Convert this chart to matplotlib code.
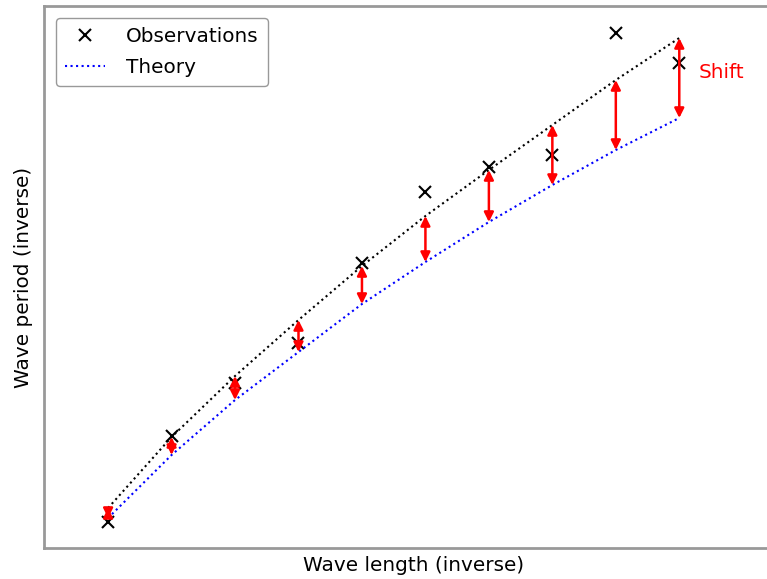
import matplotlib
matplotlib.use('Agg')
import matplotlib.pyplot as plt
import numpy as np

# wave number index and values (arbitrary units)
k = np.arange(1, 11)
theory = [30, 93, 148, 196, 244, 286, 326, 363, 398, 430]
shifted = [40, 111, 172, 228, 282, 332, 378, 423, 468, 510]
observations = [26, 112, 165, 205, 285, 356, 381, 393, 515, 485]

fig = plt.figure(figsize=(7.67, 5.79), dpi=100)
ax = fig.add_axes([44/767, 31/579, 740/767, 542/579])

ax.plot(k, observations, 'x', color='black', markersize=8, mew=1.5, label='Observations')
ax.plot(k, theory, ':', color='blue', lw=1.5, label='Theory')
ax.plot(k, shifted, ':', color='black', lw=1.5)

for xi, lo, hi in zip(k, theory, shifted):
    ax.annotate('', xy=(xi, hi), xytext=(xi, lo),
                arrowprops=dict(arrowstyle='<|-|>', color='red', lw=1.8,
                                mutation_scale=14, shrinkA=0, shrinkB=0))

ax.text(k[-1] + 0.3, 476, 'Shift', color='red', fontsize=14.4, va='center', ha='left')

ax.set_xlim(-0.01, 11.65)
ax.set_ylim(0, 542)
ax.set_xticks([])
ax.set_yticks([])
for s in ax.spines.values():
    s.set_color('#999999')
    s.set_linewidth(2)

ax.set_xlabel('Wave length (inverse)', fontsize=14.4, labelpad=6)
ax.set_ylabel('Wave period (inverse)', fontsize=14.4, labelpad=8)

leg = ax.legend(loc='upper left', fontsize=14.4, numpoints=1, borderaxespad=0.6,
                labelspacing=0.6, handletextpad=1.05, borderpad=0.45,
                fancybox=True, framealpha=1)
leg.get_frame().set_edgecolor('#999999')

plt.savefig('out.png', dpi=100)
